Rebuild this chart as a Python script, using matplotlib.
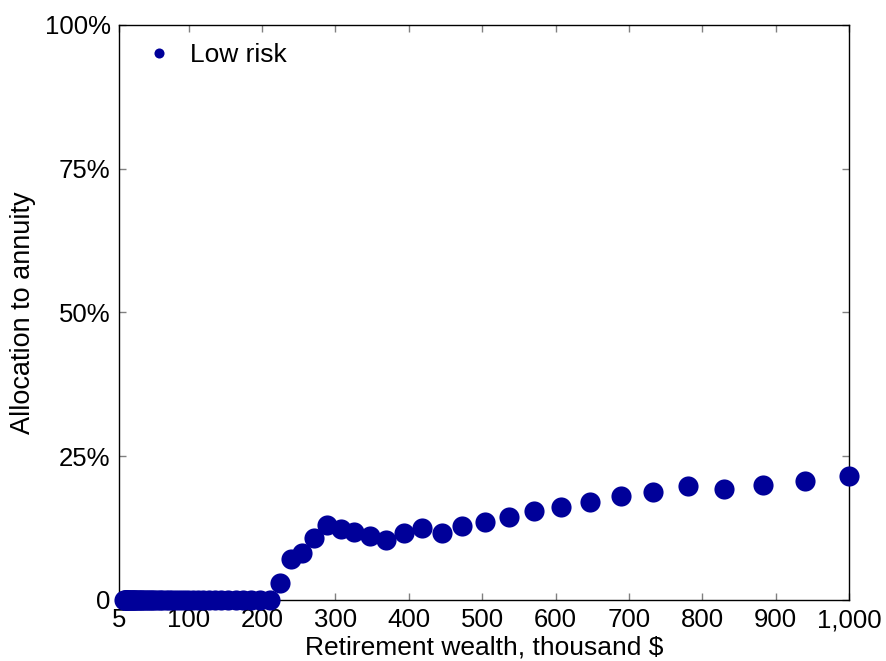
import matplotlib.pyplot as plt

plt.rcParams['font.family'] = ['Liberation Sans', 'DejaVu Sans']

# wealth grid (thousand $)
wealth = [12.0, 12.7, 13.6, 14.4, 15.4, 16.3, 17.4, 18.5, 19.7, 21.0, 22.3, 23.7,
          25.3, 26.9, 28.6, 30.5, 32.4, 34.5, 36.7, 39.1, 41.6, 44.3, 47.1, 50.1,
          53.4, 56.8, 60.5, 64.3, 68.5, 72.9, 77.6, 82.6, 87.9, 93.5, 99.5, 105.9,
          112.7, 120.0, 127.7, 135.9, 144.7, 154.0, 163.9, 174.4, 185.6, 197.6,
          210.3, 224, 239, 254, 271, 288, 307, 326, 347, 369, 393, 418, 445, 473,
          504, 537, 571, 608, 647, 689, 733, 780, 830, 883, 940, 1000]
# share allocated to the annuity (%)
alloc = [0.0] * 47 + [3.0, 7.1, 8.1, 10.7, 13.0, 12.3, 11.8, 11.1, 10.4, 11.6,
                      12.5, 11.7, 12.9, 13.6, 14.5, 15.4, 16.1, 17.1, 18.0, 18.8,
                      19.8, 19.3, 20.0, 20.7, 21.6]

xticks = [5, 100, 200, 300, 400, 500, 600, 700, 800, 900, 1000]
xlabels = ['5', '100', '200', '300', '400', '500', '600', '700', '800', '900', '1,000']
yticks = [0, 25, 50, 75, 100]
ylabels = ['0', '25%', '50%', '75%', '100%']

blue = '#000099'

fig = plt.figure(figsize=(8.86, 6.61), dpi=100)
ax = fig.add_axes([0.1343, 0.0923, 0.8239, 0.8699])

ax.plot(wealth, alloc, 'o', color=blue, markersize=14.5, markeredgewidth=0,
        clip_on=False, zorder=3, label='Low risk')

ax.set_xlim(5, 1000)
ax.set_ylim(0, 100)
ax.set_xticks(xticks)
ax.set_xticklabels(xlabels)
ax.set_yticks(yticks)
ax.set_yticklabels(ylabels)
ax.tick_params(direction='in', top=True, right=True, length=5, width=1,
               color='#808080', labelsize=18.5, pad=6)
for s in ax.spines.values():
    s.set_linewidth(1.0)
    s.set_color('black')

ax.set_xlabel('Retirement wealth, thousand $', fontsize=19, labelpad=2)
ax.set_ylabel('Allocation to annuity', fontsize=19.5, labelpad=6)

leg = ax.legend(loc='upper left', frameon=False, fontsize=19, markerscale=0.5,
                handletextpad=0.4, borderaxespad=0.3, handlelength=1.6)

fig.savefig('out.png', dpi=100)
